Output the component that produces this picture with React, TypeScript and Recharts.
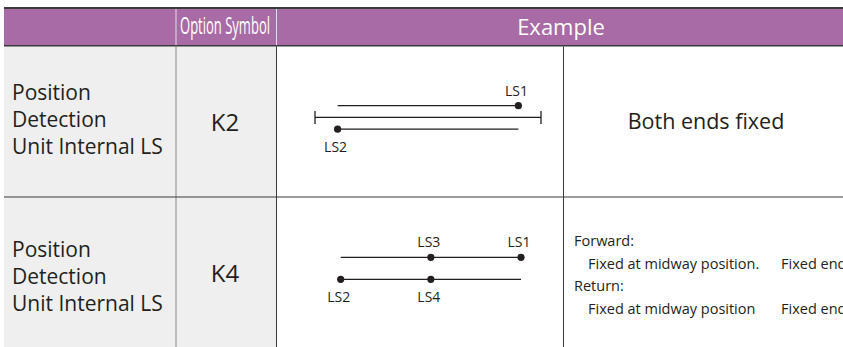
import { LineChart, Line, XAxis, YAxis } from "recharts";

// table text
const HEADERS = ["Option Symbol", "Example"];
const ROW_TITLE = ["Position", "Detection", "Unit Internal LS"];
const OPTION_SYMBOLS = ["K2", "K4"];
const K2_NOTE = "Both ends fixed";
const K4_NOTES = ["Forward:", "Fixed at midway position.", "Return:", "Fixed at midway position"];
const K4_END_NOTE = "Fixed end";

// stroke travel in % of full stroke, lanes stacked top to bottom
const STROKE_DOMAIN = [0, 100];
const K2_LANES = [
    [{ x: 10, y: 1 }, { x: 90, y: 1, ls: "LS1", side: "above" }],
    [{ x: 0, y: 0, stop: true }, { x: 100, y: 0, stop: true }],
    [{ x: 10, y: -1, ls: "LS2", side: "below" }, { x: 90, y: -1 }],
];
const K4_LANES = [
    [{ x: 0, y: 1 }, { x: 50, y: 1, ls: "LS3", side: "above" }, { x: 100, y: 1, ls: "LS1", side: "above" }],
    [{ x: 0, y: 0, ls: "LS2", side: "below" }, { x: 50, y: 0, ls: "LS4", side: "below" }, { x: 100, y: 0 }],
];

const INK = "#231f20";
const RULE = "#3a3a3a";
const PURPLE = "#a86ba5";
const FONT = "'Open Sans', 'Noto Sans', sans-serif";

const LsDot = (props: any) => {
    const { cx, cy, payload, index } = props;
    if (payload.stop) {
        return <line key={`stop-${index}`} x1={cx} x2={cx} y1={cy - 6.5} y2={cy + 6.5} stroke={INK} strokeWidth={1.3} />;
    }
    if (!payload.ls) return <g key={`none-${index}`} />;
    const ty = payload.side === "above" ? cy - 10 : cy + 23;
    return (
        <g key={`ls-${index}`}>
            <circle cx={cx} cy={cy} r={3.6} fill={INK} />
            <text x={cx - 2} y={ty} textAnchor="middle" fontSize={14} fontFamily={FONT} fill={INK}>
                {payload.ls}
            </text>
        </g>
    );
};

const LsDiagram = ({ lanes, yDomain, left, top, width, height, margin }: any) => (
    <div style={{ position: "absolute", left, top }}>
        <LineChart width={width} height={height} margin={margin}>
            <XAxis type="number" dataKey="x" domain={STROKE_DOMAIN} hide />
            <YAxis type="number" domain={yDomain} hide />
            {lanes.map((lane: any[], i: number) => (
                <Line
                    key={`lane-${i}`}
                    data={lane}
                    dataKey="y"
                    stroke={INK}
                    strokeWidth={1.3}
                    dot={LsDot}
                    activeDot={false}
                    isAnimationActive={false}
                />
            ))}
        </LineChart>
    </div>
);

const TableFrame = () => (
    <svg width={843} height={347} style={{ position: "absolute", left: 0, top: 0 }} fontFamily={FONT}>
        {/* body backgrounds */}
        <rect x={4} y={46} width={272.5} height={301} fill="#efefef" />
        {/* header */}
        <rect x={4} y={7} width={839} height={2} fill={RULE} />
        <rect x={4} y={9} width={839} height={36} fill={PURPLE} />
        <rect x={4} y={45} width={839} height={1.5} fill={RULE} />
        <rect x={175.5} y={9} width={1} height={36} fill="#e9dbe8" />
        <rect x={276} y={9} width={1} height={36} fill="#e9dbe8" />
        <text x={225} y={34.3} textAnchor="middle" fontSize={24} fill="#fff" textLength={90} lengthAdjust="spacingAndGlyphs"
            fontFamily="'Liberation Sans Narrow', 'Open Sans', sans-serif">
            {HEADERS[0]}
        </text>
        <text x={561} y={35} textAnchor="middle" fontSize={22} fontWeight={500} fill="#fff">{HEADERS[1]}</text>
        {/* body rules */}
        <rect x={175.5} y={46.5} width={1} height={301} fill="#8a8a8a" />
        <rect x={276} y={46.5} width={1} height={301} fill={RULE} />
        <rect x={563} y={46.5} width={1} height={301} fill={RULE} />
        <rect x={4} y={196.5} width={839} height={1} fill={RULE} />
        {/* row titles */}
        {[100, 257.3].map((base, r) => (
            <text key={`title-${r}`} x={12} y={base} fontSize={21} fill={INK}>
                {ROW_TITLE.map((t, i) => (
                    <tspan key={t} x={12} y={base + i * 26.8}>{t}</tspan>
                ))}
            </text>
        ))}
        {/* option symbols */}
        <text x={225} y={131} textAnchor="middle" fontSize={24} fill={INK}>{OPTION_SYMBOLS[0]}</text>
        <text x={225} y={282.3} textAnchor="middle" fontSize={24} fill={INK}>{OPTION_SYMBOLS[1]}</text>
        {/* notes */}
        <text x={706} y={129.3} textAnchor="middle" fontSize={21.5} fill={INK}>{K2_NOTE}</text>
        {K4_NOTES.map((t, i) => (
            <text key={`note-${i}`} x={i % 2 === 0 ? 574 : 588} y={246 + i * 22.5} fontSize={14.5} fill={INK}>{t}</text>
        ))}
        <text x={781} y={268.5} fontSize={14.5} fill={INK}>{K4_END_NOTE}</text>
        <text x={781} y={313.5} fontSize={14.5} fill={INK}>{K4_END_NOTE}</text>
    </svg>
);

export default function App() {
    return (
        <>
            <style>{"body{margin:0}"}</style>
            <div style={{ position: "relative", width: 843, height: 347, overflow: "hidden", background: "#fff" }}>
                <TableFrame />
                <LsDiagram
                    lanes={K2_LANES}
                    yDomain={[-1, 1]}
                    left={290}
                    top={80}
                    width={276}
                    height={80}
                    margin={{ top: 25.7, right: 25, bottom: 30.8, left: 25 }}
                />
                <LsDiagram
                    lanes={K4_LANES}
                    yDomain={[0, 1]}
                    left={320}
                    top={230}
                    width={221}
                    height={80}
                    margin={{ top: 27.3, right: 20, bottom: 30.7, left: 20.7 }}
                />
            </div>
        </>
    );
}
